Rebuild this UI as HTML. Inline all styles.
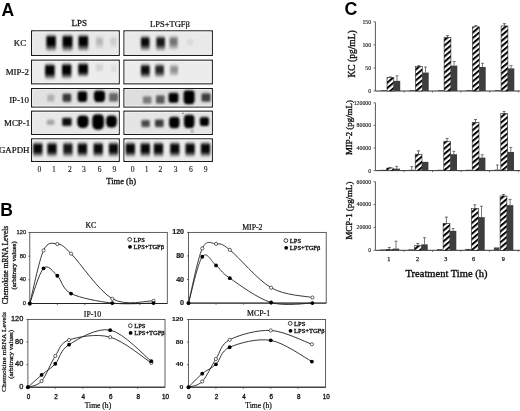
<!DOCTYPE html>
<html><head><meta charset="utf-8"><style>
html,body{margin:0;padding:0;background:#fff;}
body{width:520px;height:411px;overflow:hidden;}
svg{display:block;filter:blur(0.4px);}
</style></head><body>
<svg width="520" height="411" viewBox="0 0 520 411">
<rect width="520" height="411" fill="#fff"/>
<text x="1.60" y="15.60" font-family='"Liberation Sans", sans-serif' font-size="17.5" text-anchor="start" font-weight="bold" fill="#000"  >A</text>
<text x="79.20" y="26.40" font-family='"Liberation Serif", serif' font-size="9.0" text-anchor="middle" font-weight="normal" fill="#111" stroke="#111" stroke-width="0.3" >LPS</text>
<text x="170.00" y="26.60" font-family='"Liberation Serif", serif' font-size="8.5" text-anchor="middle" font-weight="normal" fill="#111" stroke="#111" stroke-width="0.22" >LPS+TGF&#946;</text>
<text x="26.20" y="46.30" font-family='"Liberation Serif", serif' font-size="8.9" text-anchor="end" font-weight="normal" fill="#111" stroke="#111" stroke-width="0.22" >KC</text>
<text x="28.90" y="75.20" font-family='"Liberation Serif", serif' font-size="8.9" text-anchor="end" font-weight="normal" fill="#111" stroke="#111" stroke-width="0.22" >MIP-2</text>
<text x="28.90" y="102.60" font-family='"Liberation Serif", serif' font-size="8.9" text-anchor="end" font-weight="normal" fill="#111" stroke="#111" stroke-width="0.22" >IP-10</text>
<text x="30.20" y="125.50" font-family='"Liberation Serif", serif' font-size="8.9" text-anchor="end" font-weight="normal" fill="#111" stroke="#111" stroke-width="0.22" >MCP-1</text>
<text x="29.50" y="153.30" font-family='"Liberation Serif", serif' font-size="8.9" text-anchor="end" font-weight="normal" fill="#111" stroke="#111" stroke-width="0.22" >GAPDH</text>
<defs>
<filter id="bl" x="-50%" y="-50%" width="200%" height="200%"><feGaussianBlur stdDeviation="1.1"/></filter>
<filter id="bl2" x="-50%" y="-50%" width="200%" height="200%"><feGaussianBlur stdDeviation="1.6"/></filter>
<linearGradient id="tailg" x1="0" y1="0" x2="0" y2="1"><stop offset="0" stop-color="#000" stop-opacity="0.75"/><stop offset="1" stop-color="#000" stop-opacity="0"/></linearGradient>
<pattern id="hatch" patternUnits="userSpaceOnUse" width="4.15" height="4.15" patternTransform="rotate(-40)"><rect width="4.15" height="4.15" fill="#fff"/><rect width="4.15" height="2.0" fill="#000"/></pattern>
</defs>
<rect x="31.60" y="30.90" width="87.60" height="24.50" fill="#e8e8e8" stroke="#1a1a1a" stroke-width="1.2"/>
<rect x="32.60" y="31.90" width="85.60" height="22.50" fill="none" stroke="#f7f7f7" stroke-width="0.8"/>
<linearGradient id="g16" x1="0" y1="0" x2="0" y2="1"><stop offset="0" stop-opacity="0.1"/><stop offset="0.107" stop-opacity="0.45"/><stop offset="0.194" stop-opacity="1"/><stop offset="0.583" stop-opacity="1"/><stop offset="0.729" stop-opacity="0.68"/><stop offset="0.875" stop-opacity="0.32"/><stop offset="1" stop-opacity="0"/></linearGradient>
<rect x="46.35" y="34.00" width="9.50" height="18.00" rx="2.50" fill="url(#g16)" opacity="1.00" filter="url(#bl)"/>
<linearGradient id="g18" x1="0" y1="0" x2="0" y2="1"><stop offset="0" stop-opacity="0.1"/><stop offset="0.105" stop-opacity="0.45"/><stop offset="0.191" stop-opacity="1"/><stop offset="0.590" stop-opacity="1"/><stop offset="0.734" stop-opacity="0.68"/><stop offset="0.877" stop-opacity="0.32"/><stop offset="1" stop-opacity="0"/></linearGradient>
<rect x="62.50" y="34.00" width="10.00" height="18.30" rx="2.50" fill="url(#g18)" opacity="1.00" filter="url(#bl)"/>
<linearGradient id="g20" x1="0" y1="0" x2="0" y2="1"><stop offset="0" stop-opacity="0.1"/><stop offset="0.108" stop-opacity="0.45"/><stop offset="0.197" stop-opacity="1"/><stop offset="0.579" stop-opacity="1"/><stop offset="0.726" stop-opacity="0.68"/><stop offset="0.874" stop-opacity="0.32"/><stop offset="1" stop-opacity="0"/></linearGradient>
<rect x="78.45" y="34.00" width="9.70" height="17.80" rx="2.50" fill="url(#g20)" opacity="1.00" filter="url(#bl)"/>
<linearGradient id="g22" x1="0" y1="0" x2="0" y2="1"><stop offset="0" stop-opacity="0.1"/><stop offset="0.138" stop-opacity="0.45"/><stop offset="0.250" stop-opacity="1"/><stop offset="0.536" stop-opacity="1"/><stop offset="0.698" stop-opacity="0.68"/><stop offset="0.861" stop-opacity="0.32"/><stop offset="1" stop-opacity="0"/></linearGradient>
<rect x="96.00" y="35.50" width="7.00" height="14.00" rx="2.00" fill="url(#g22)" opacity="0.20" filter="url(#bl)"/>
<linearGradient id="g24" x1="0" y1="0" x2="0" y2="1"><stop offset="0" stop-opacity="0.1"/><stop offset="0.148" stop-opacity="0.45"/><stop offset="0.269" stop-opacity="1"/><stop offset="0.577" stop-opacity="1"/><stop offset="0.725" stop-opacity="0.68"/><stop offset="0.873" stop-opacity="0.32"/><stop offset="1" stop-opacity="0"/></linearGradient>
<rect x="110.50" y="35.50" width="6.00" height="13.00" rx="2.00" fill="url(#g24)" opacity="0.12" filter="url(#bl)"/>
<rect x="124.00" y="30.90" width="88.30" height="24.50" fill="#e9e9e9" stroke="#1a1a1a" stroke-width="1.2"/>
<rect x="125.00" y="31.90" width="86.30" height="22.50" fill="none" stroke="#f7f7f7" stroke-width="0.8"/>
<linearGradient id="g28" x1="0" y1="0" x2="0" y2="1"><stop offset="0" stop-opacity="0.1"/><stop offset="0.119" stop-opacity="0.45"/><stop offset="0.216" stop-opacity="1"/><stop offset="0.568" stop-opacity="1"/><stop offset="0.719" stop-opacity="0.68"/><stop offset="0.870" stop-opacity="0.32"/><stop offset="1" stop-opacity="0"/></linearGradient>
<rect x="140.90" y="35.30" width="8.60" height="16.20" rx="2.20" fill="url(#g28)" opacity="0.97" filter="url(#bl)"/>
<linearGradient id="g30" x1="0" y1="0" x2="0" y2="1"><stop offset="0" stop-opacity="0.1"/><stop offset="0.119" stop-opacity="0.45"/><stop offset="0.216" stop-opacity="1"/><stop offset="0.568" stop-opacity="1"/><stop offset="0.719" stop-opacity="0.68"/><stop offset="0.870" stop-opacity="0.32"/><stop offset="1" stop-opacity="0"/></linearGradient>
<rect x="156.30" y="35.30" width="8.60" height="16.20" rx="2.20" fill="url(#g30)" opacity="0.90" filter="url(#bl)"/>
<linearGradient id="g32" x1="0" y1="0" x2="0" y2="1"><stop offset="0" stop-opacity="0.1"/><stop offset="0.128" stop-opacity="0.45"/><stop offset="0.233" stop-opacity="1"/><stop offset="0.567" stop-opacity="1"/><stop offset="0.718" stop-opacity="0.68"/><stop offset="0.870" stop-opacity="0.32"/><stop offset="1" stop-opacity="0"/></linearGradient>
<rect x="169.60" y="35.30" width="8.00" height="15.00" rx="2.00" fill="url(#g32)" opacity="0.50" filter="url(#bl)"/>
<linearGradient id="g34" x1="0" y1="0" x2="0" y2="1"><stop offset="0" stop-opacity="0.1"/><stop offset="0.138" stop-opacity="0.45"/><stop offset="0.250" stop-opacity="1"/><stop offset="0.750" stop-opacity="1"/><stop offset="0.838" stop-opacity="0.68"/><stop offset="0.925" stop-opacity="0.32"/><stop offset="1" stop-opacity="0"/></linearGradient>
<rect x="187.00" y="38.00" width="6.00" height="8.00" rx="2.00" fill="url(#g34)" opacity="0.06" filter="url(#bl)"/>
<rect x="31.60" y="60.20" width="87.60" height="23.60" fill="#ececec" stroke="#1a1a1a" stroke-width="1.2"/>
<rect x="32.60" y="61.20" width="85.60" height="21.60" fill="none" stroke="#f7f7f7" stroke-width="0.8"/>
<linearGradient id="g38" x1="0" y1="0" x2="0" y2="1"><stop offset="0" stop-opacity="0.1"/><stop offset="0.113" stop-opacity="0.45"/><stop offset="0.206" stop-opacity="1"/><stop offset="0.618" stop-opacity="1"/><stop offset="0.751" stop-opacity="0.68"/><stop offset="0.885" stop-opacity="0.32"/><stop offset="1" stop-opacity="0"/></linearGradient>
<rect x="45.10" y="63.00" width="9.60" height="17.00" rx="2.50" fill="url(#g38)" opacity="1.00" filter="url(#bl)"/>
<linearGradient id="g40" x1="0" y1="0" x2="0" y2="1"><stop offset="0" stop-opacity="0.1"/><stop offset="0.113" stop-opacity="0.45"/><stop offset="0.206" stop-opacity="1"/><stop offset="0.618" stop-opacity="1"/><stop offset="0.751" stop-opacity="0.68"/><stop offset="0.885" stop-opacity="0.32"/><stop offset="1" stop-opacity="0"/></linearGradient>
<rect x="62.00" y="62.50" width="9.40" height="17.00" rx="2.50" fill="url(#g40)" opacity="1.00" filter="url(#bl)"/>
<linearGradient id="g42" x1="0" y1="0" x2="0" y2="1"><stop offset="0" stop-opacity="0.1"/><stop offset="0.124" stop-opacity="0.45"/><stop offset="0.226" stop-opacity="1"/><stop offset="0.645" stop-opacity="1"/><stop offset="0.769" stop-opacity="0.68"/><stop offset="0.894" stop-opacity="0.32"/><stop offset="1" stop-opacity="0"/></linearGradient>
<rect x="78.25" y="62.00" width="9.70" height="15.50" rx="2.50" fill="url(#g42)" opacity="1.00" filter="url(#bl)"/>
<linearGradient id="g44" x1="0" y1="0" x2="0" y2="1"><stop offset="0" stop-opacity="0.1"/><stop offset="0.122" stop-opacity="0.45"/><stop offset="0.222" stop-opacity="1"/><stop offset="0.778" stop-opacity="1"/><stop offset="0.856" stop-opacity="0.68"/><stop offset="0.933" stop-opacity="0.32"/><stop offset="1" stop-opacity="0"/></linearGradient>
<rect x="95.90" y="63.00" width="7.00" height="9.00" rx="2.00" fill="url(#g44)" opacity="0.10" filter="url(#bl)"/>
<linearGradient id="g46" x1="0" y1="0" x2="0" y2="1"><stop offset="0" stop-opacity="0.1"/><stop offset="0.122" stop-opacity="0.45"/><stop offset="0.222" stop-opacity="1"/><stop offset="0.778" stop-opacity="1"/><stop offset="0.856" stop-opacity="0.68"/><stop offset="0.933" stop-opacity="0.32"/><stop offset="1" stop-opacity="0"/></linearGradient>
<rect x="110.90" y="64.00" width="6.00" height="9.00" rx="2.00" fill="url(#g46)" opacity="0.06" filter="url(#bl)"/>
<rect x="124.00" y="60.20" width="88.30" height="23.60" fill="#ececec" stroke="#1a1a1a" stroke-width="1.2"/>
<rect x="125.00" y="61.20" width="86.30" height="21.60" fill="none" stroke="#f7f7f7" stroke-width="0.8"/>
<linearGradient id="g50" x1="0" y1="0" x2="0" y2="1"><stop offset="0" stop-opacity="0.1"/><stop offset="0.127" stop-opacity="0.45"/><stop offset="0.230" stop-opacity="1"/><stop offset="0.605" stop-opacity="1"/><stop offset="0.743" stop-opacity="0.68"/><stop offset="0.882" stop-opacity="0.32"/><stop offset="1" stop-opacity="0"/></linearGradient>
<rect x="140.90" y="63.30" width="8.80" height="15.20" rx="2.20" fill="url(#g50)" opacity="0.95" filter="url(#bl)"/>
<linearGradient id="g52" x1="0" y1="0" x2="0" y2="1"><stop offset="0" stop-opacity="0.1"/><stop offset="0.131" stop-opacity="0.45"/><stop offset="0.238" stop-opacity="1"/><stop offset="0.592" stop-opacity="1"/><stop offset="0.735" stop-opacity="0.68"/><stop offset="0.878" stop-opacity="0.32"/><stop offset="1" stop-opacity="0"/></linearGradient>
<rect x="155.30" y="63.30" width="8.60" height="14.70" rx="2.20" fill="url(#g52)" opacity="0.85" filter="url(#bl)"/>
<linearGradient id="g54" x1="0" y1="0" x2="0" y2="1"><stop offset="0" stop-opacity="0.1"/><stop offset="0.148" stop-opacity="0.45"/><stop offset="0.269" stop-opacity="1"/><stop offset="0.577" stop-opacity="1"/><stop offset="0.725" stop-opacity="0.68"/><stop offset="0.873" stop-opacity="0.32"/><stop offset="1" stop-opacity="0"/></linearGradient>
<rect x="170.20" y="63.80" width="7.80" height="13.00" rx="2.00" fill="url(#g54)" opacity="0.38" filter="url(#bl)"/>
<rect x="31.60" y="88.60" width="87.60" height="18.40" fill="#e1e1e1" stroke="#1a1a1a" stroke-width="1.2"/>
<rect x="32.60" y="89.60" width="85.60" height="16.40" fill="none" stroke="#f7f7f7" stroke-width="0.8"/>
<linearGradient id="g58" x1="0" y1="0" x2="0" y2="1"><stop offset="0" stop-opacity="0.1"/><stop offset="0.122" stop-opacity="0.45"/><stop offset="0.222" stop-opacity="1"/><stop offset="0.778" stop-opacity="1"/><stop offset="0.856" stop-opacity="0.68"/><stop offset="0.933" stop-opacity="0.32"/><stop offset="1" stop-opacity="0"/></linearGradient>
<rect x="47.30" y="93.50" width="7.00" height="9.00" rx="2.00" fill="url(#g58)" opacity="0.22" filter="url(#bl)"/>
<linearGradient id="g60" x1="0" y1="0" x2="0" y2="1"><stop offset="0" stop-opacity="0.1"/><stop offset="0.105" stop-opacity="0.45"/><stop offset="0.190" stop-opacity="1"/><stop offset="0.762" stop-opacity="1"/><stop offset="0.845" stop-opacity="0.68"/><stop offset="0.929" stop-opacity="0.32"/><stop offset="1" stop-opacity="0"/></linearGradient>
<rect x="62.60" y="92.60" width="8.60" height="10.50" rx="2.50" fill="url(#g60)" opacity="0.75" filter="url(#bl)"/>
<linearGradient id="g62" x1="0" y1="0" x2="0" y2="1"><stop offset="0" stop-opacity="0.1"/><stop offset="0.090" stop-opacity="0.45"/><stop offset="0.164" stop-opacity="1"/><stop offset="0.918" stop-opacity="1"/><stop offset="0.947" stop-opacity="0.68"/><stop offset="0.975" stop-opacity="0.32"/><stop offset="1" stop-opacity="0"/></linearGradient>
<rect x="77.65" y="90.20" width="9.50" height="12.20" rx="4.00" fill="url(#g62)" opacity="1.00" filter="url(#bl)"/>
<linearGradient id="g64" x1="0" y1="0" x2="0" y2="1"><stop offset="0" stop-opacity="0.1"/><stop offset="0.085" stop-opacity="0.45"/><stop offset="0.154" stop-opacity="1"/><stop offset="0.923" stop-opacity="1"/><stop offset="0.950" stop-opacity="0.68"/><stop offset="0.977" stop-opacity="0.32"/><stop offset="1" stop-opacity="0"/></linearGradient>
<rect x="93.90" y="89.60" width="11.20" height="13.00" rx="4.50" fill="url(#g64)" opacity="1.00" filter="url(#bl)"/>
<linearGradient id="g66" x1="0" y1="0" x2="0" y2="1"><stop offset="0" stop-opacity="0.1"/><stop offset="0.105" stop-opacity="0.45"/><stop offset="0.190" stop-opacity="1"/><stop offset="0.810" stop-opacity="1"/><stop offset="0.876" stop-opacity="0.68"/><stop offset="0.943" stop-opacity="0.32"/><stop offset="1" stop-opacity="0"/></linearGradient>
<rect x="109.10" y="92.00" width="9.00" height="10.50" rx="2.50" fill="url(#g66)" opacity="0.55" filter="url(#bl)"/>
<rect x="124.00" y="88.60" width="88.30" height="18.40" fill="#dedede" stroke="#1a1a1a" stroke-width="1.2"/>
<rect x="125.00" y="89.60" width="86.30" height="16.40" fill="none" stroke="#f7f7f7" stroke-width="0.8"/>
<linearGradient id="g70" x1="0" y1="0" x2="0" y2="1"><stop offset="0" stop-opacity="0.1"/><stop offset="0.120" stop-opacity="0.45"/><stop offset="0.217" stop-opacity="1"/><stop offset="0.783" stop-opacity="1"/><stop offset="0.859" stop-opacity="0.68"/><stop offset="0.935" stop-opacity="0.32"/><stop offset="1" stop-opacity="0"/></linearGradient>
<rect x="142.95" y="95.30" width="8.50" height="9.20" rx="2.00" fill="url(#g70)" opacity="0.45" filter="url(#bl)"/>
<linearGradient id="g72" x1="0" y1="0" x2="0" y2="1"><stop offset="0" stop-opacity="0.1"/><stop offset="0.108" stop-opacity="0.45"/><stop offset="0.196" stop-opacity="1"/><stop offset="0.804" stop-opacity="1"/><stop offset="0.873" stop-opacity="0.68"/><stop offset="0.941" stop-opacity="0.32"/><stop offset="1" stop-opacity="0"/></linearGradient>
<rect x="156.05" y="94.30" width="8.50" height="10.20" rx="2.00" fill="url(#g72)" opacity="0.60" filter="url(#bl)"/>
<linearGradient id="g74" x1="0" y1="0" x2="0" y2="1"><stop offset="0" stop-opacity="0.1"/><stop offset="0.096" stop-opacity="0.45"/><stop offset="0.175" stop-opacity="1"/><stop offset="0.912" stop-opacity="1"/><stop offset="0.943" stop-opacity="0.68"/><stop offset="0.974" stop-opacity="0.32"/><stop offset="1" stop-opacity="0"/></linearGradient>
<rect x="168.60" y="91.80" width="9.80" height="11.40" rx="3.50" fill="url(#g74)" opacity="1.00" filter="url(#bl)"/>
<linearGradient id="g76" x1="0" y1="0" x2="0" y2="1"><stop offset="0" stop-opacity="0.1"/><stop offset="0.071" stop-opacity="0.45"/><stop offset="0.129" stop-opacity="1"/><stop offset="0.935" stop-opacity="1"/><stop offset="0.958" stop-opacity="0.68"/><stop offset="0.981" stop-opacity="0.32"/><stop offset="1" stop-opacity="0"/></linearGradient>
<rect x="183.60" y="89.30" width="11.00" height="15.50" rx="4.50" fill="url(#g76)" opacity="1.00" filter="url(#bl)"/>
<linearGradient id="g78" x1="0" y1="0" x2="0" y2="1"><stop offset="0" stop-opacity="0.1"/><stop offset="0.105" stop-opacity="0.45"/><stop offset="0.190" stop-opacity="1"/><stop offset="0.810" stop-opacity="1"/><stop offset="0.876" stop-opacity="0.68"/><stop offset="0.943" stop-opacity="0.32"/><stop offset="1" stop-opacity="0"/></linearGradient>
<rect x="201.50" y="92.20" width="9.00" height="10.50" rx="2.50" fill="url(#g78)" opacity="0.72" filter="url(#bl)"/>
<rect x="31.60" y="111.20" width="87.60" height="23.20" fill="#e8e8e8" stroke="#1a1a1a" stroke-width="1.2"/>
<rect x="32.60" y="112.20" width="85.60" height="21.20" fill="none" stroke="#f7f7f7" stroke-width="0.8"/>
<linearGradient id="g82" x1="0" y1="0" x2="0" y2="1"><stop offset="0" stop-opacity="0.1"/><stop offset="0.157" stop-opacity="0.45"/><stop offset="0.286" stop-opacity="1"/><stop offset="0.714" stop-opacity="1"/><stop offset="0.814" stop-opacity="0.68"/><stop offset="0.914" stop-opacity="0.32"/><stop offset="1" stop-opacity="0"/></linearGradient>
<rect x="46.85" y="118.80" width="7.50" height="7.00" rx="1.50" fill="url(#g82)" opacity="0.30" filter="url(#bl)"/>
<linearGradient id="g84" x1="0" y1="0" x2="0" y2="1"><stop offset="0" stop-opacity="0.1"/><stop offset="0.107" stop-opacity="0.45"/><stop offset="0.194" stop-opacity="1"/><stop offset="0.757" stop-opacity="1"/><stop offset="0.842" stop-opacity="0.68"/><stop offset="0.927" stop-opacity="0.32"/><stop offset="1" stop-opacity="0"/></linearGradient>
<rect x="62.20" y="116.80" width="9.40" height="10.30" rx="2.50" fill="url(#g84)" opacity="0.95" filter="url(#bl)"/>
<linearGradient id="g86" x1="0" y1="0" x2="0" y2="1"><stop offset="0" stop-opacity="0.1"/><stop offset="0.079" stop-opacity="0.45"/><stop offset="0.143" stop-opacity="1"/><stop offset="0.929" stop-opacity="1"/><stop offset="0.954" stop-opacity="0.68"/><stop offset="0.979" stop-opacity="0.32"/><stop offset="1" stop-opacity="0"/></linearGradient>
<rect x="77.20" y="114.40" width="11.40" height="14.00" rx="5.50" fill="url(#g86)" opacity="1.00" filter="url(#bl)"/>
<linearGradient id="g88" x1="0" y1="0" x2="0" y2="1"><stop offset="0" stop-opacity="0.1"/><stop offset="0.065" stop-opacity="0.45"/><stop offset="0.118" stop-opacity="1"/><stop offset="0.941" stop-opacity="1"/><stop offset="0.962" stop-opacity="0.68"/><stop offset="0.982" stop-opacity="0.32"/><stop offset="1" stop-opacity="0"/></linearGradient>
<rect x="92.25" y="113.20" width="11.70" height="17.00" rx="5.80" fill="url(#g88)" opacity="1.00" filter="url(#bl)"/>
<linearGradient id="g90" x1="0" y1="0" x2="0" y2="1"><stop offset="0" stop-opacity="0.1"/><stop offset="0.081" stop-opacity="0.45"/><stop offset="0.147" stop-opacity="1"/><stop offset="0.926" stop-opacity="1"/><stop offset="0.952" stop-opacity="0.68"/><stop offset="0.978" stop-opacity="0.32"/><stop offset="1" stop-opacity="0"/></linearGradient>
<rect x="106.10" y="114.40" width="10.80" height="13.60" rx="5.30" fill="url(#g90)" opacity="1.00" filter="url(#bl)"/>
<rect x="124.00" y="111.20" width="88.30" height="23.20" fill="#e5e5e5" stroke="#1a1a1a" stroke-width="1.2"/>
<rect x="125.00" y="112.20" width="86.30" height="21.20" fill="none" stroke="#f7f7f7" stroke-width="0.8"/>
<linearGradient id="g94" x1="0" y1="0" x2="0" y2="1"><stop offset="0" stop-opacity="0.1"/><stop offset="0.122" stop-opacity="0.45"/><stop offset="0.222" stop-opacity="1"/><stop offset="0.778" stop-opacity="1"/><stop offset="0.856" stop-opacity="0.68"/><stop offset="0.933" stop-opacity="0.32"/><stop offset="1" stop-opacity="0"/></linearGradient>
<rect x="141.40" y="119.00" width="8.40" height="9.00" rx="2.00" fill="url(#g94)" opacity="0.68" filter="url(#bl)"/>
<linearGradient id="g96" x1="0" y1="0" x2="0" y2="1"><stop offset="0" stop-opacity="0.1"/><stop offset="0.116" stop-opacity="0.45"/><stop offset="0.211" stop-opacity="1"/><stop offset="0.789" stop-opacity="1"/><stop offset="0.863" stop-opacity="0.68"/><stop offset="0.937" stop-opacity="0.32"/><stop offset="1" stop-opacity="0"/></linearGradient>
<rect x="155.00" y="118.50" width="8.60" height="9.50" rx="2.00" fill="url(#g96)" opacity="0.75" filter="url(#bl)"/>
<linearGradient id="g98" x1="0" y1="0" x2="0" y2="1"><stop offset="0" stop-opacity="0.1"/><stop offset="0.085" stop-opacity="0.45"/><stop offset="0.154" stop-opacity="1"/><stop offset="0.923" stop-opacity="1"/><stop offset="0.950" stop-opacity="0.68"/><stop offset="0.977" stop-opacity="0.32"/><stop offset="1" stop-opacity="0"/></linearGradient>
<rect x="169.10" y="115.80" width="10.40" height="13.00" rx="4.50" fill="url(#g98)" opacity="1.00" filter="url(#bl)"/>
<linearGradient id="g100" x1="0" y1="0" x2="0" y2="1"><stop offset="0" stop-opacity="0.1"/><stop offset="0.074" stop-opacity="0.45"/><stop offset="0.135" stop-opacity="1"/><stop offset="0.932" stop-opacity="1"/><stop offset="0.956" stop-opacity="0.68"/><stop offset="0.980" stop-opacity="0.32"/><stop offset="1" stop-opacity="0"/></linearGradient>
<rect x="184.00" y="113.80" width="10.40" height="14.80" rx="4.50" fill="url(#g100)" opacity="1.00" filter="url(#bl)"/>
<linearGradient id="g102" x1="0" y1="0" x2="0" y2="1"><stop offset="0" stop-opacity="0.1"/><stop offset="0.105" stop-opacity="0.45"/><stop offset="0.190" stop-opacity="1"/><stop offset="0.905" stop-opacity="1"/><stop offset="0.938" stop-opacity="0.68"/><stop offset="0.971" stop-opacity="0.32"/><stop offset="1" stop-opacity="0"/></linearGradient>
<rect x="199.85" y="116.00" width="9.10" height="10.50" rx="3.50" fill="url(#g102)" opacity="1.00" filter="url(#bl)"/>
<circle cx="192.2" cy="131.3" r="1.1" fill="#222" filter="url(#bl)" opacity="0.8"/>
<circle cx="183" cy="113.2" r="0.7" fill="#222" opacity="0.7"/>
<rect x="31.60" y="138.90" width="87.60" height="22.50" fill="#ebebeb" stroke="#1a1a1a" stroke-width="1.2"/>
<rect x="32.60" y="139.90" width="85.60" height="20.50" fill="none" stroke="#f7f7f7" stroke-width="0.8"/>
<linearGradient id="g108" x1="0" y1="0" x2="0" y2="1"><stop offset="0" stop-opacity="0.1"/><stop offset="0.120" stop-opacity="0.45"/><stop offset="0.219" stop-opacity="1"/><stop offset="0.631" stop-opacity="1"/><stop offset="0.760" stop-opacity="0.68"/><stop offset="0.889" stop-opacity="0.32"/><stop offset="1" stop-opacity="0"/></linearGradient>
<rect x="33.15" y="141.50" width="9.30" height="16.00" rx="2.60" fill="url(#g108)" opacity="0.97" filter="url(#bl)"/>
<linearGradient id="g110" x1="0" y1="0" x2="0" y2="1"><stop offset="0" stop-opacity="0.1"/><stop offset="0.120" stop-opacity="0.45"/><stop offset="0.219" stop-opacity="1"/><stop offset="0.631" stop-opacity="1"/><stop offset="0.760" stop-opacity="0.68"/><stop offset="0.889" stop-opacity="0.32"/><stop offset="1" stop-opacity="0"/></linearGradient>
<rect x="47.35" y="141.50" width="9.30" height="16.00" rx="2.60" fill="url(#g110)" opacity="0.97" filter="url(#bl)"/>
<linearGradient id="g112" x1="0" y1="0" x2="0" y2="1"><stop offset="0" stop-opacity="0.1"/><stop offset="0.120" stop-opacity="0.45"/><stop offset="0.219" stop-opacity="1"/><stop offset="0.631" stop-opacity="1"/><stop offset="0.760" stop-opacity="0.68"/><stop offset="0.889" stop-opacity="0.32"/><stop offset="1" stop-opacity="0"/></linearGradient>
<rect x="63.25" y="141.50" width="9.30" height="16.00" rx="2.60" fill="url(#g112)" opacity="0.90" filter="url(#bl)"/>
<linearGradient id="g114" x1="0" y1="0" x2="0" y2="1"><stop offset="0" stop-opacity="0.1"/><stop offset="0.120" stop-opacity="0.45"/><stop offset="0.219" stop-opacity="1"/><stop offset="0.631" stop-opacity="1"/><stop offset="0.760" stop-opacity="0.68"/><stop offset="0.889" stop-opacity="0.32"/><stop offset="1" stop-opacity="0"/></linearGradient>
<rect x="77.75" y="141.50" width="9.30" height="16.00" rx="2.60" fill="url(#g114)" opacity="0.97" filter="url(#bl)"/>
<linearGradient id="g116" x1="0" y1="0" x2="0" y2="1"><stop offset="0" stop-opacity="0.1"/><stop offset="0.120" stop-opacity="0.45"/><stop offset="0.219" stop-opacity="1"/><stop offset="0.631" stop-opacity="1"/><stop offset="0.760" stop-opacity="0.68"/><stop offset="0.889" stop-opacity="0.32"/><stop offset="1" stop-opacity="0"/></linearGradient>
<rect x="93.55" y="141.50" width="9.30" height="16.00" rx="2.60" fill="url(#g116)" opacity="0.97" filter="url(#bl)"/>
<linearGradient id="g118" x1="0" y1="0" x2="0" y2="1"><stop offset="0" stop-opacity="0.1"/><stop offset="0.120" stop-opacity="0.45"/><stop offset="0.219" stop-opacity="1"/><stop offset="0.631" stop-opacity="1"/><stop offset="0.760" stop-opacity="0.68"/><stop offset="0.889" stop-opacity="0.32"/><stop offset="1" stop-opacity="0"/></linearGradient>
<rect x="108.85" y="141.50" width="9.30" height="16.00" rx="2.60" fill="url(#g118)" opacity="0.97" filter="url(#bl)"/>
<rect x="124.00" y="138.90" width="88.30" height="22.50" fill="#eaeaea" stroke="#1a1a1a" stroke-width="1.2"/>
<rect x="125.00" y="139.90" width="86.30" height="20.50" fill="none" stroke="#f7f7f7" stroke-width="0.8"/>
<linearGradient id="g122" x1="0" y1="0" x2="0" y2="1"><stop offset="0" stop-opacity="0.1"/><stop offset="0.120" stop-opacity="0.45"/><stop offset="0.219" stop-opacity="1"/><stop offset="0.631" stop-opacity="1"/><stop offset="0.760" stop-opacity="0.68"/><stop offset="0.889" stop-opacity="0.32"/><stop offset="1" stop-opacity="0"/></linearGradient>
<rect x="125.65" y="141.50" width="9.30" height="16.00" rx="2.60" fill="url(#g122)" opacity="0.97" filter="url(#bl)"/>
<linearGradient id="g124" x1="0" y1="0" x2="0" y2="1"><stop offset="0" stop-opacity="0.1"/><stop offset="0.120" stop-opacity="0.45"/><stop offset="0.219" stop-opacity="1"/><stop offset="0.631" stop-opacity="1"/><stop offset="0.760" stop-opacity="0.68"/><stop offset="0.889" stop-opacity="0.32"/><stop offset="1" stop-opacity="0"/></linearGradient>
<rect x="140.65" y="141.50" width="9.30" height="16.00" rx="2.60" fill="url(#g124)" opacity="0.97" filter="url(#bl)"/>
<linearGradient id="g126" x1="0" y1="0" x2="0" y2="1"><stop offset="0" stop-opacity="0.1"/><stop offset="0.120" stop-opacity="0.45"/><stop offset="0.219" stop-opacity="1"/><stop offset="0.631" stop-opacity="1"/><stop offset="0.760" stop-opacity="0.68"/><stop offset="0.889" stop-opacity="0.32"/><stop offset="1" stop-opacity="0"/></linearGradient>
<rect x="153.85" y="141.50" width="9.30" height="16.00" rx="2.60" fill="url(#g126)" opacity="0.97" filter="url(#bl)"/>
<linearGradient id="g128" x1="0" y1="0" x2="0" y2="1"><stop offset="0" stop-opacity="0.1"/><stop offset="0.120" stop-opacity="0.45"/><stop offset="0.219" stop-opacity="1"/><stop offset="0.631" stop-opacity="1"/><stop offset="0.760" stop-opacity="0.68"/><stop offset="0.889" stop-opacity="0.32"/><stop offset="1" stop-opacity="0"/></linearGradient>
<rect x="170.15" y="141.50" width="9.30" height="16.00" rx="2.60" fill="url(#g128)" opacity="0.97" filter="url(#bl)"/>
<linearGradient id="g130" x1="0" y1="0" x2="0" y2="1"><stop offset="0" stop-opacity="0.1"/><stop offset="0.120" stop-opacity="0.45"/><stop offset="0.219" stop-opacity="1"/><stop offset="0.631" stop-opacity="1"/><stop offset="0.760" stop-opacity="0.68"/><stop offset="0.889" stop-opacity="0.32"/><stop offset="1" stop-opacity="0"/></linearGradient>
<rect x="185.45" y="141.50" width="9.30" height="16.00" rx="2.60" fill="url(#g130)" opacity="0.97" filter="url(#bl)"/>
<linearGradient id="g132" x1="0" y1="0" x2="0" y2="1"><stop offset="0" stop-opacity="0.1"/><stop offset="0.120" stop-opacity="0.45"/><stop offset="0.219" stop-opacity="1"/><stop offset="0.631" stop-opacity="1"/><stop offset="0.760" stop-opacity="0.68"/><stop offset="0.889" stop-opacity="0.32"/><stop offset="1" stop-opacity="0"/></linearGradient>
<rect x="200.85" y="141.50" width="9.30" height="16.00" rx="2.60" fill="url(#g132)" opacity="0.97" filter="url(#bl)"/>
<text x="39.30" y="171.70" font-family='"Liberation Serif", serif' font-size="7.6" text-anchor="middle" font-weight="normal" fill="#111" stroke="#111" stroke-width="0.1" >0</text>
<text x="53.90" y="171.70" font-family='"Liberation Serif", serif' font-size="7.6" text-anchor="middle" font-weight="normal" fill="#111" stroke="#111" stroke-width="0.1" >1</text>
<text x="70.00" y="171.70" font-family='"Liberation Serif", serif' font-size="7.6" text-anchor="middle" font-weight="normal" fill="#111" stroke="#111" stroke-width="0.1" >2</text>
<text x="84.00" y="171.70" font-family='"Liberation Serif", serif' font-size="7.6" text-anchor="middle" font-weight="normal" fill="#111" stroke="#111" stroke-width="0.1" >3</text>
<text x="99.70" y="171.70" font-family='"Liberation Serif", serif' font-size="7.6" text-anchor="middle" font-weight="normal" fill="#111" stroke="#111" stroke-width="0.1" >6</text>
<text x="114.30" y="171.70" font-family='"Liberation Serif", serif' font-size="7.6" text-anchor="middle" font-weight="normal" fill="#111" stroke="#111" stroke-width="0.1" >9</text>
<text x="132.60" y="171.70" font-family='"Liberation Serif", serif' font-size="7.6" text-anchor="middle" font-weight="normal" fill="#111" stroke="#111" stroke-width="0.1" >0</text>
<text x="146.60" y="171.70" font-family='"Liberation Serif", serif' font-size="7.6" text-anchor="middle" font-weight="normal" fill="#111" stroke="#111" stroke-width="0.1" >1</text>
<text x="160.50" y="171.70" font-family='"Liberation Serif", serif' font-size="7.6" text-anchor="middle" font-weight="normal" fill="#111" stroke="#111" stroke-width="0.1" >2</text>
<text x="175.60" y="171.70" font-family='"Liberation Serif", serif' font-size="7.6" text-anchor="middle" font-weight="normal" fill="#111" stroke="#111" stroke-width="0.1" >3</text>
<text x="190.90" y="171.70" font-family='"Liberation Serif", serif' font-size="7.6" text-anchor="middle" font-weight="normal" fill="#111" stroke="#111" stroke-width="0.1" >6</text>
<text x="205.60" y="171.70" font-family='"Liberation Serif", serif' font-size="7.6" text-anchor="middle" font-weight="normal" fill="#111" stroke="#111" stroke-width="0.1" >9</text>
<text x="121.20" y="183.60" font-family='"Liberation Serif", serif' font-size="8.5" text-anchor="middle" font-weight="normal" fill="#111" stroke="#111" stroke-width="0.3" >Time (h)</text>
<text x="0.20" y="216.40" font-family='"Liberation Sans", sans-serif' font-size="17.5" text-anchor="start" font-weight="bold" fill="#000"  >B</text>
<rect x="29.80" y="232.40" width="137.50" height="71.10" fill="none" stroke="#444" stroke-width="0.85"/>
<line x1="29.80" y1="303.50" x2="167.30" y2="303.50" stroke="#222" stroke-width="0.95"/>
<line x1="28.30" y1="303.50" x2="29.80" y2="303.50" stroke="#444" stroke-width="0.8"/>
<g transform="translate(26.10,305.10) scale(1.0,1)">
<text x="0.00" y="0.00" font-family='"Liberation Sans", sans-serif' font-size="5.8" text-anchor="end" font-weight="normal" fill="#1a1a1a" stroke="#1a1a1a" stroke-width="0.25" >0</text>
</g>
<line x1="28.30" y1="279.80" x2="29.80" y2="279.80" stroke="#444" stroke-width="0.8"/>
<g transform="translate(26.10,281.40) scale(1.0,1)">
<text x="0.00" y="0.00" font-family='"Liberation Sans", sans-serif' font-size="5.8" text-anchor="end" font-weight="normal" fill="#1a1a1a" stroke="#1a1a1a" stroke-width="0.25" >40</text>
</g>
<line x1="28.30" y1="256.10" x2="29.80" y2="256.10" stroke="#444" stroke-width="0.8"/>
<g transform="translate(26.10,257.70) scale(1.0,1)">
<text x="0.00" y="0.00" font-family='"Liberation Sans", sans-serif' font-size="5.8" text-anchor="end" font-weight="normal" fill="#1a1a1a" stroke="#1a1a1a" stroke-width="0.25" >80</text>
</g>
<line x1="28.30" y1="232.40" x2="29.80" y2="232.40" stroke="#444" stroke-width="0.8"/>
<g transform="translate(26.10,234.00) scale(1.0,1)">
<text x="0.00" y="0.00" font-family='"Liberation Sans", sans-serif' font-size="5.8" text-anchor="end" font-weight="normal" fill="#1a1a1a" stroke="#1a1a1a" stroke-width="0.25" >120</text>
</g>
<line x1="57.30" y1="303.50" x2="57.30" y2="305.10" stroke="#444" stroke-width="0.8"/>
<line x1="84.80" y1="303.50" x2="84.80" y2="305.10" stroke="#444" stroke-width="0.8"/>
<line x1="112.30" y1="303.50" x2="112.30" y2="305.10" stroke="#444" stroke-width="0.8"/>
<line x1="139.80" y1="303.50" x2="139.80" y2="305.10" stroke="#444" stroke-width="0.8"/>
<text x="90.85" y="228.30" font-family='"Liberation Serif", serif' font-size="7.8" text-anchor="middle" font-weight="normal" fill="#111" stroke="#111" stroke-width="0.22" >KC</text>
<path d="M29.80,303.50 C32.09,294.65 38.97,260.32 43.55,250.41 C48.13,240.51 52.72,243.54 57.30,244.07 C61.88,244.61 61.88,244.50 71.05,253.61 C80.22,262.73 98.55,290.89 112.30,298.76 C126.05,306.63 146.68,300.49 153.55,300.83" fill="none" stroke="#222" stroke-width="0.9"/>
<path d="M29.80,303.50 C32.09,297.63 38.97,272.93 43.55,268.31 C48.13,263.68 52.72,271.56 57.30,275.77 C61.88,279.98 61.88,288.99 71.05,293.55 C80.22,298.10 98.55,301.50 112.30,303.09 C126.05,304.68 146.68,303.09 153.55,303.09" fill="none" stroke="#222" stroke-width="0.9"/>
<circle cx="29.80" cy="303.50" r="1.6" fill="#fff" stroke="#222" stroke-width="0.7"/>
<circle cx="43.55" cy="250.41" r="1.6" fill="#fff" stroke="#222" stroke-width="0.7"/>
<circle cx="57.30" cy="244.07" r="1.6" fill="#fff" stroke="#222" stroke-width="0.7"/>
<circle cx="71.05" cy="253.61" r="1.6" fill="#fff" stroke="#222" stroke-width="0.7"/>
<circle cx="112.30" cy="298.76" r="1.6" fill="#fff" stroke="#222" stroke-width="0.7"/>
<circle cx="153.55" cy="300.83" r="1.6" fill="#fff" stroke="#222" stroke-width="0.7"/>
<circle cx="29.80" cy="303.50" r="1.9" fill="#000"/>
<circle cx="43.55" cy="268.31" r="1.9" fill="#000"/>
<circle cx="57.30" cy="275.77" r="1.9" fill="#000"/>
<circle cx="71.05" cy="293.55" r="1.9" fill="#000"/>
<circle cx="112.30" cy="303.09" r="1.9" fill="#000"/>
<circle cx="153.55" cy="303.09" r="1.9" fill="#000"/>
<circle cx="129.70" cy="239.40" r="1.9" fill="#fff" stroke="#111" stroke-width="0.8"/>
<circle cx="130.00" cy="246.85" r="1.9" fill="#000"/>
<text x="133.60" y="241.50" font-family='"Liberation Serif", serif' font-size="6.5" text-anchor="start" font-weight="normal" fill="#111" stroke="#111" stroke-width="0.32" >LPS</text>
<text x="133.60" y="248.85" font-family='"Liberation Serif", serif' font-size="6.5" text-anchor="start" font-weight="normal" fill="#111" stroke="#111" stroke-width="0.32" >LPS+TGF&#946;</text>
<rect x="188.50" y="232.40" width="137.70" height="70.70" fill="none" stroke="#444" stroke-width="0.85"/>
<line x1="188.50" y1="303.10" x2="326.20" y2="303.10" stroke="#222" stroke-width="0.95"/>
<line x1="187.00" y1="303.10" x2="188.50" y2="303.10" stroke="#444" stroke-width="0.8"/>
<g transform="translate(184.10,305.10) scale(1.12,1)">
<text x="0.00" y="0.00" font-family='"Liberation Sans", sans-serif' font-size="6.4" text-anchor="end" font-weight="bold" fill="#1a1a1a" stroke="#1a1a1a" stroke-width="0.15" >0</text>
</g>
<line x1="187.00" y1="279.53" x2="188.50" y2="279.53" stroke="#444" stroke-width="0.8"/>
<g transform="translate(184.10,281.53) scale(1.12,1)">
<text x="0.00" y="0.00" font-family='"Liberation Sans", sans-serif' font-size="6.4" text-anchor="end" font-weight="bold" fill="#1a1a1a" stroke="#1a1a1a" stroke-width="0.15" >40</text>
</g>
<line x1="187.00" y1="255.97" x2="188.50" y2="255.97" stroke="#444" stroke-width="0.8"/>
<g transform="translate(184.10,257.97) scale(1.12,1)">
<text x="0.00" y="0.00" font-family='"Liberation Sans", sans-serif' font-size="6.4" text-anchor="end" font-weight="bold" fill="#1a1a1a" stroke="#1a1a1a" stroke-width="0.15" >80</text>
</g>
<line x1="187.00" y1="232.40" x2="188.50" y2="232.40" stroke="#444" stroke-width="0.8"/>
<g transform="translate(184.10,234.40) scale(1.12,1)">
<text x="0.00" y="0.00" font-family='"Liberation Sans", sans-serif' font-size="6.4" text-anchor="end" font-weight="bold" fill="#1a1a1a" stroke="#1a1a1a" stroke-width="0.15" >120</text>
</g>
<line x1="216.04" y1="303.10" x2="216.04" y2="304.70" stroke="#444" stroke-width="0.8"/>
<line x1="243.58" y1="303.10" x2="243.58" y2="304.70" stroke="#444" stroke-width="0.8"/>
<line x1="271.12" y1="303.10" x2="271.12" y2="304.70" stroke="#444" stroke-width="0.8"/>
<line x1="298.66" y1="303.10" x2="298.66" y2="304.70" stroke="#444" stroke-width="0.8"/>
<text x="252.35" y="229.80" font-family='"Liberation Serif", serif' font-size="7.8" text-anchor="middle" font-weight="normal" fill="#111" stroke="#111" stroke-width="0.22" >MIP-2</text>
<path d="M188.50,303.10 C190.80,294.00 197.68,258.35 202.27,248.48 C206.86,238.62 211.45,243.66 216.04,243.89 C220.63,244.11 220.63,242.53 229.81,249.84 C238.99,257.14 257.35,279.77 271.12,287.72 C284.89,295.68 305.55,295.92 312.43,297.56" fill="none" stroke="#222" stroke-width="0.9"/>
<path d="M188.50,303.10 C190.80,295.37 197.68,263.02 202.27,256.73 C206.86,250.45 211.45,261.82 216.04,265.39 C220.63,268.97 220.63,271.99 229.81,278.18 C238.99,284.36 257.35,298.36 271.12,302.51 C284.89,306.66 305.55,303.00 312.43,303.10" fill="none" stroke="#222" stroke-width="0.9"/>
<circle cx="188.50" cy="303.10" r="1.6" fill="#fff" stroke="#222" stroke-width="0.7"/>
<circle cx="202.27" cy="248.48" r="1.6" fill="#fff" stroke="#222" stroke-width="0.7"/>
<circle cx="216.04" cy="243.89" r="1.6" fill="#fff" stroke="#222" stroke-width="0.7"/>
<circle cx="229.81" cy="249.84" r="1.6" fill="#fff" stroke="#222" stroke-width="0.7"/>
<circle cx="271.12" cy="287.72" r="1.6" fill="#fff" stroke="#222" stroke-width="0.7"/>
<circle cx="312.43" cy="297.56" r="1.6" fill="#fff" stroke="#222" stroke-width="0.7"/>
<circle cx="188.50" cy="303.10" r="1.9" fill="#000"/>
<circle cx="202.27" cy="256.73" r="1.9" fill="#000"/>
<circle cx="216.04" cy="265.39" r="1.9" fill="#000"/>
<circle cx="229.81" cy="278.18" r="1.9" fill="#000"/>
<circle cx="271.12" cy="302.51" r="1.9" fill="#000"/>
<circle cx="312.43" cy="303.10" r="1.9" fill="#000"/>
<circle cx="285.90" cy="240.60" r="1.9" fill="#fff" stroke="#111" stroke-width="0.8"/>
<circle cx="286.20" cy="247.80" r="1.9" fill="#000"/>
<text x="289.80" y="242.70" font-family='"Liberation Serif", serif' font-size="6.5" text-anchor="start" font-weight="normal" fill="#111" stroke="#111" stroke-width="0.32" >LPS</text>
<text x="289.80" y="249.80" font-family='"Liberation Serif", serif' font-size="6.5" text-anchor="start" font-weight="normal" fill="#111" stroke="#111" stroke-width="0.32" >LPS+TGF&#946;</text>
<rect x="27.90" y="319.40" width="137.10" height="67.80" fill="none" stroke="#444" stroke-width="0.85"/>
<line x1="27.90" y1="387.20" x2="165.00" y2="387.20" stroke="#222" stroke-width="0.95"/>
<line x1="26.40" y1="387.20" x2="27.90" y2="387.20" stroke="#444" stroke-width="0.8"/>
<g transform="translate(23.30,388.80) scale(1.12,1)">
<text x="0.00" y="0.00" font-family='"Liberation Sans", sans-serif' font-size="6.6" text-anchor="end" font-weight="normal" fill="#1a1a1a" stroke="#1a1a1a" stroke-width="0.3" >0</text>
</g>
<line x1="26.40" y1="364.60" x2="27.90" y2="364.60" stroke="#444" stroke-width="0.8"/>
<g transform="translate(23.30,366.20) scale(1.12,1)">
<text x="0.00" y="0.00" font-family='"Liberation Sans", sans-serif' font-size="6.6" text-anchor="end" font-weight="normal" fill="#1a1a1a" stroke="#1a1a1a" stroke-width="0.3" >40</text>
</g>
<line x1="26.40" y1="342.00" x2="27.90" y2="342.00" stroke="#444" stroke-width="0.8"/>
<g transform="translate(23.30,343.60) scale(1.12,1)">
<text x="0.00" y="0.00" font-family='"Liberation Sans", sans-serif' font-size="6.6" text-anchor="end" font-weight="normal" fill="#1a1a1a" stroke="#1a1a1a" stroke-width="0.3" >80</text>
</g>
<line x1="26.40" y1="319.40" x2="27.90" y2="319.40" stroke="#444" stroke-width="0.8"/>
<g transform="translate(23.30,321.00) scale(1.12,1)">
<text x="0.00" y="0.00" font-family='"Liberation Sans", sans-serif' font-size="6.6" text-anchor="end" font-weight="normal" fill="#1a1a1a" stroke="#1a1a1a" stroke-width="0.3" >120</text>
</g>
<line x1="55.32" y1="387.20" x2="55.32" y2="388.80" stroke="#444" stroke-width="0.8"/>
<line x1="82.74" y1="387.20" x2="82.74" y2="388.80" stroke="#444" stroke-width="0.8"/>
<line x1="110.16" y1="387.20" x2="110.16" y2="388.80" stroke="#444" stroke-width="0.8"/>
<line x1="137.58" y1="387.20" x2="137.58" y2="388.80" stroke="#444" stroke-width="0.8"/>
<text x="28.50" y="398.50" font-family='"Liberation Sans", sans-serif' font-size="6.3" text-anchor="middle" font-weight="normal" fill="#1a1a1a" stroke="#1a1a1a" stroke-width="0.35" >0</text>
<text x="55.92" y="398.50" font-family='"Liberation Sans", sans-serif' font-size="6.3" text-anchor="middle" font-weight="normal" fill="#1a1a1a" stroke="#1a1a1a" stroke-width="0.35" >2</text>
<text x="83.34" y="398.50" font-family='"Liberation Sans", sans-serif' font-size="6.3" text-anchor="middle" font-weight="normal" fill="#1a1a1a" stroke="#1a1a1a" stroke-width="0.35" >4</text>
<text x="110.76" y="398.50" font-family='"Liberation Sans", sans-serif' font-size="6.3" text-anchor="middle" font-weight="normal" fill="#1a1a1a" stroke="#1a1a1a" stroke-width="0.35" >6</text>
<text x="138.18" y="398.50" font-family='"Liberation Sans", sans-serif' font-size="6.3" text-anchor="middle" font-weight="normal" fill="#1a1a1a" stroke="#1a1a1a" stroke-width="0.35" >8</text>
<text x="165.60" y="398.50" font-family='"Liberation Sans", sans-serif' font-size="6.3" text-anchor="middle" font-weight="normal" fill="#1a1a1a" stroke="#1a1a1a" stroke-width="0.35" >10</text>
<text x="97.95" y="407.60" font-family='"Liberation Serif", serif' font-size="7.6" text-anchor="middle" font-weight="normal" fill="#111" stroke="#111" stroke-width="0.22" >Time (h)</text>
<text x="92.45" y="316.60" font-family='"Liberation Serif", serif' font-size="7.8" text-anchor="middle" font-weight="normal" fill="#111" stroke="#111" stroke-width="0.22" >IP-10</text>
<path d="M27.90,387.20 C30.18,386.18 37.04,386.31 41.61,381.10 C46.18,375.88 50.75,362.75 55.32,355.90 C59.89,349.04 59.89,343.09 69.03,339.97 C78.17,336.84 96.45,333.32 110.16,337.14 C123.87,340.96 144.44,358.61 151.29,362.90" fill="none" stroke="#222" stroke-width="0.9"/>
<path d="M27.90,387.20 C30.18,385.16 37.04,378.85 41.61,374.94 C46.18,371.03 50.75,368.80 55.32,363.75 C59.89,358.71 59.89,350.26 69.03,344.66 C78.17,339.05 96.45,327.38 110.16,330.13 C123.87,332.89 144.44,356.03 151.29,361.21" fill="none" stroke="#222" stroke-width="0.9"/>
<circle cx="27.90" cy="387.20" r="1.6" fill="#fff" stroke="#222" stroke-width="0.7"/>
<circle cx="41.61" cy="381.10" r="1.6" fill="#fff" stroke="#222" stroke-width="0.7"/>
<circle cx="55.32" cy="355.90" r="1.6" fill="#fff" stroke="#222" stroke-width="0.7"/>
<circle cx="69.03" cy="339.97" r="1.6" fill="#fff" stroke="#222" stroke-width="0.7"/>
<circle cx="110.16" cy="337.14" r="1.6" fill="#fff" stroke="#222" stroke-width="0.7"/>
<circle cx="151.29" cy="362.90" r="1.6" fill="#fff" stroke="#222" stroke-width="0.7"/>
<circle cx="27.90" cy="387.20" r="1.9" fill="#000"/>
<circle cx="41.61" cy="374.94" r="1.9" fill="#000"/>
<circle cx="55.32" cy="363.75" r="1.9" fill="#000"/>
<circle cx="69.03" cy="344.66" r="1.9" fill="#000"/>
<circle cx="110.16" cy="330.13" r="1.9" fill="#000"/>
<circle cx="151.29" cy="361.21" r="1.9" fill="#000"/>
<circle cx="130.30" cy="325.70" r="1.9" fill="#fff" stroke="#111" stroke-width="0.8"/>
<circle cx="130.60" cy="332.90" r="1.9" fill="#000"/>
<text x="134.20" y="327.80" font-family='"Liberation Serif", serif' font-size="6.5" text-anchor="start" font-weight="normal" fill="#111" stroke="#111" stroke-width="0.32" >LPS</text>
<text x="134.20" y="334.90" font-family='"Liberation Serif", serif' font-size="6.5" text-anchor="start" font-weight="normal" fill="#111" stroke="#111" stroke-width="0.32" >LPS+TGF&#946;</text>
<rect x="188.50" y="319.50" width="137.10" height="67.70" fill="none" stroke="#444" stroke-width="0.85"/>
<line x1="188.50" y1="387.20" x2="325.60" y2="387.20" stroke="#222" stroke-width="0.95"/>
<line x1="187.00" y1="387.20" x2="188.50" y2="387.20" stroke="#444" stroke-width="0.8"/>
<g transform="translate(183.40,388.80) scale(1.15,1)">
<text x="0.00" y="0.00" font-family='"Liberation Sans", sans-serif' font-size="6.0" text-anchor="end" font-weight="bold" fill="#1a1a1a" stroke="#1a1a1a" stroke-width="0.15" >0</text>
</g>
<line x1="187.00" y1="364.63" x2="188.50" y2="364.63" stroke="#444" stroke-width="0.8"/>
<g transform="translate(183.40,366.23) scale(1.15,1)">
<text x="0.00" y="0.00" font-family='"Liberation Sans", sans-serif' font-size="6.0" text-anchor="end" font-weight="bold" fill="#1a1a1a" stroke="#1a1a1a" stroke-width="0.15" >40</text>
</g>
<line x1="187.00" y1="342.07" x2="188.50" y2="342.07" stroke="#444" stroke-width="0.8"/>
<g transform="translate(183.40,343.67) scale(1.15,1)">
<text x="0.00" y="0.00" font-family='"Liberation Sans", sans-serif' font-size="6.0" text-anchor="end" font-weight="bold" fill="#1a1a1a" stroke="#1a1a1a" stroke-width="0.15" >80</text>
</g>
<line x1="187.00" y1="319.50" x2="188.50" y2="319.50" stroke="#444" stroke-width="0.8"/>
<g transform="translate(183.40,321.10) scale(1.15,1)">
<text x="0.00" y="0.00" font-family='"Liberation Sans", sans-serif' font-size="6.0" text-anchor="end" font-weight="bold" fill="#1a1a1a" stroke="#1a1a1a" stroke-width="0.15" >120</text>
</g>
<line x1="215.92" y1="387.20" x2="215.92" y2="388.80" stroke="#444" stroke-width="0.8"/>
<line x1="243.34" y1="387.20" x2="243.34" y2="388.80" stroke="#444" stroke-width="0.8"/>
<line x1="270.76" y1="387.20" x2="270.76" y2="388.80" stroke="#444" stroke-width="0.8"/>
<line x1="298.18" y1="387.20" x2="298.18" y2="388.80" stroke="#444" stroke-width="0.8"/>
<text x="189.10" y="398.50" font-family='"Liberation Sans", sans-serif' font-size="6.3" text-anchor="middle" font-weight="normal" fill="#1a1a1a" stroke="#1a1a1a" stroke-width="0.35" >0</text>
<text x="216.52" y="398.50" font-family='"Liberation Sans", sans-serif' font-size="6.3" text-anchor="middle" font-weight="normal" fill="#1a1a1a" stroke="#1a1a1a" stroke-width="0.35" >2</text>
<text x="243.94" y="398.50" font-family='"Liberation Sans", sans-serif' font-size="6.3" text-anchor="middle" font-weight="normal" fill="#1a1a1a" stroke="#1a1a1a" stroke-width="0.35" >4</text>
<text x="271.36" y="398.50" font-family='"Liberation Sans", sans-serif' font-size="6.3" text-anchor="middle" font-weight="normal" fill="#1a1a1a" stroke="#1a1a1a" stroke-width="0.35" >6</text>
<text x="298.78" y="398.50" font-family='"Liberation Sans", sans-serif' font-size="6.3" text-anchor="middle" font-weight="normal" fill="#1a1a1a" stroke="#1a1a1a" stroke-width="0.35" >8</text>
<text x="326.20" y="398.50" font-family='"Liberation Sans", sans-serif' font-size="6.3" text-anchor="middle" font-weight="normal" fill="#1a1a1a" stroke="#1a1a1a" stroke-width="0.35" >10</text>
<text x="258.55" y="407.60" font-family='"Liberation Serif", serif' font-size="7.6" text-anchor="middle" font-weight="normal" fill="#111" stroke="#111" stroke-width="0.22" >Time (h)</text>
<text x="258.55" y="316.20" font-family='"Liberation Serif", serif' font-size="7.8" text-anchor="middle" font-weight="normal" fill="#111" stroke="#111" stroke-width="0.22" >MCP-1</text>
<path d="M188.50,387.20 C190.78,386.25 197.64,386.21 202.21,381.50 C206.78,376.79 211.35,365.88 215.92,358.94 C220.49,351.99 220.49,344.56 229.63,339.81 C238.77,335.06 257.05,329.70 270.76,330.44 C284.47,331.19 305.04,341.96 311.89,344.27" fill="none" stroke="#222" stroke-width="0.9"/>
<path d="M188.50,387.20 C190.78,384.94 197.64,377.47 202.21,373.66 C206.78,369.85 211.35,368.75 215.92,364.35 C220.49,359.95 220.49,351.25 229.63,347.26 C238.77,343.26 257.05,338.00 270.76,340.37 C284.47,342.75 305.04,358.00 311.89,361.53" fill="none" stroke="#222" stroke-width="0.9"/>
<circle cx="188.50" cy="387.20" r="1.6" fill="#fff" stroke="#222" stroke-width="0.7"/>
<circle cx="202.21" cy="381.50" r="1.6" fill="#fff" stroke="#222" stroke-width="0.7"/>
<circle cx="215.92" cy="358.94" r="1.6" fill="#fff" stroke="#222" stroke-width="0.7"/>
<circle cx="229.63" cy="339.81" r="1.6" fill="#fff" stroke="#222" stroke-width="0.7"/>
<circle cx="270.76" cy="330.44" r="1.6" fill="#fff" stroke="#222" stroke-width="0.7"/>
<circle cx="311.89" cy="344.27" r="1.6" fill="#fff" stroke="#222" stroke-width="0.7"/>
<circle cx="188.50" cy="387.20" r="1.9" fill="#000"/>
<circle cx="202.21" cy="373.66" r="1.9" fill="#000"/>
<circle cx="215.92" cy="364.35" r="1.9" fill="#000"/>
<circle cx="229.63" cy="347.26" r="1.9" fill="#000"/>
<circle cx="270.76" cy="340.37" r="1.9" fill="#000"/>
<circle cx="311.89" cy="361.53" r="1.9" fill="#000"/>
<circle cx="290.20" cy="323.40" r="1.9" fill="#fff" stroke="#111" stroke-width="0.8"/>
<circle cx="290.50" cy="330.80" r="1.9" fill="#000"/>
<text x="294.10" y="325.50" font-family='"Liberation Serif", serif' font-size="6.5" text-anchor="start" font-weight="normal" fill="#111" stroke="#111" stroke-width="0.32" >LPS</text>
<text x="294.10" y="332.80" font-family='"Liberation Serif", serif' font-size="6.5" text-anchor="start" font-weight="normal" fill="#111" stroke="#111" stroke-width="0.32" >LPS+TGF&#946;</text>
<text transform="translate(8.00,265.00) rotate(-90) scale(1,1.0)" x="0" y="0" font-family='"Liberation Serif", serif' font-size="7.4" text-anchor="middle" font-weight="normal" fill="#111" stroke="#111" stroke-width="0.3">Chemokine mRNA Levels</text>
<text transform="translate(15.60,265.40) rotate(-90) scale(1,1.0)" x="0" y="0" font-family='"Liberation Serif", serif' font-size="7.0" text-anchor="middle" font-weight="normal" fill="#111" stroke="#111" stroke-width="0.3">(arbitrary values)</text>
<text transform="translate(5.50,352.00) rotate(-90) scale(1,0.9)" x="0" y="0" font-family='"Liberation Serif", serif' font-size="7.55" text-anchor="middle" font-weight="normal" fill="#111" stroke="#111" stroke-width="0.25">Chemokine mRNA Levels</text>
<text transform="translate(13.40,354.30) rotate(-90) scale(1,1.0)" x="0" y="0" font-family='"Liberation Serif", serif' font-size="7.1" text-anchor="middle" font-weight="normal" fill="#111" stroke="#111" stroke-width="0.25">(arbitrary values)</text>
<text x="344.40" y="14.60" font-family='"Liberation Sans", sans-serif' font-size="17.8" text-anchor="start" font-weight="bold" fill="#000"  >C</text>
<line x1="375.40" y1="21.80" x2="375.40" y2="91.00" stroke="#444" stroke-width="0.9"/>
<line x1="375.40" y1="91.00" x2="520" y2="91.00" stroke="#333" stroke-width="1.0"/>
<line x1="373.40" y1="91.00" x2="375.40" y2="91.00" stroke="#444" stroke-width="0.7"/>
<text x="371.10" y="92.90" font-family='"Liberation Serif", serif' font-size="5.8" text-anchor="end" font-weight="normal" fill="#222" stroke="#222" stroke-width="0.15" >0</text>
<line x1="373.40" y1="67.93" x2="375.40" y2="67.93" stroke="#444" stroke-width="0.7"/>
<text x="371.10" y="69.83" font-family='"Liberation Serif", serif' font-size="5.8" text-anchor="end" font-weight="normal" fill="#222" stroke="#222" stroke-width="0.15" >50</text>
<line x1="373.40" y1="44.87" x2="375.40" y2="44.87" stroke="#444" stroke-width="0.7"/>
<text x="371.10" y="46.77" font-family='"Liberation Serif", serif' font-size="5.8" text-anchor="end" font-weight="normal" fill="#222" stroke="#222" stroke-width="0.15" >100</text>
<line x1="373.40" y1="21.80" x2="375.40" y2="21.80" stroke="#444" stroke-width="0.7"/>
<text x="371.10" y="23.70" font-family='"Liberation Serif", serif' font-size="5.8" text-anchor="end" font-weight="normal" fill="#222" stroke="#222" stroke-width="0.15" >150</text>
<line x1="404.20" y1="91.00" x2="404.20" y2="92.60" stroke="#444" stroke-width="0.7"/>
<line x1="432.50" y1="91.00" x2="432.50" y2="92.60" stroke="#444" stroke-width="0.7"/>
<line x1="461.00" y1="91.00" x2="461.00" y2="92.60" stroke="#444" stroke-width="0.7"/>
<line x1="489.60" y1="91.00" x2="489.60" y2="92.60" stroke="#444" stroke-width="0.7"/>
<line x1="518.30" y1="91.00" x2="518.30" y2="92.60" stroke="#444" stroke-width="0.7"/>
<text transform="translate(354.70,54.00) rotate(-90) scale(1,1.0)" x="0" y="0" font-family='"Liberation Serif", serif' font-size="9.5" text-anchor="middle" font-weight="normal" fill="#111" stroke="#111" stroke-width="0.35">KC (pg/mL)</text>
<rect x="380.80" y="90.20" width="5.5" height="0.80" fill="#444"/>
<line x1="390.30" y1="77.62" x2="390.30" y2="76.93" stroke="#333" stroke-width="0.7"/>
<line x1="388.80" y1="76.93" x2="391.80" y2="76.93" stroke="#333" stroke-width="0.7"/>
<rect x="387.00" y="77.62" width="6.8" height="13.38" fill="url(#hatch)" stroke="#222" stroke-width="0.6"/>
<line x1="397.00" y1="80.85" x2="397.00" y2="75.78" stroke="#444" stroke-width="0.7"/>
<line x1="395.50" y1="75.78" x2="398.50" y2="75.78" stroke="#444" stroke-width="0.7"/>
<rect x="393.80" y="80.85" width="6.4" height="10.15" fill="#3d3d3d"/>
<rect x="409.30" y="90.20" width="5.5" height="0.80" fill="#444"/>
<line x1="418.80" y1="66.55" x2="418.80" y2="65.63" stroke="#333" stroke-width="0.7"/>
<line x1="417.30" y1="65.63" x2="420.30" y2="65.63" stroke="#333" stroke-width="0.7"/>
<rect x="415.50" y="66.55" width="6.8" height="24.45" fill="url(#hatch)" stroke="#222" stroke-width="0.6"/>
<line x1="425.50" y1="72.55" x2="425.50" y2="67.01" stroke="#444" stroke-width="0.7"/>
<line x1="424.00" y1="67.01" x2="427.00" y2="67.01" stroke="#444" stroke-width="0.7"/>
<rect x="422.30" y="72.55" width="6.4" height="18.45" fill="#3d3d3d"/>
<rect x="437.90" y="90.20" width="5.5" height="0.80" fill="#444"/>
<line x1="447.40" y1="37.49" x2="447.40" y2="35.64" stroke="#333" stroke-width="0.7"/>
<line x1="445.90" y1="35.64" x2="448.90" y2="35.64" stroke="#333" stroke-width="0.7"/>
<rect x="444.10" y="37.49" width="6.8" height="53.51" fill="url(#hatch)" stroke="#222" stroke-width="0.6"/>
<line x1="454.10" y1="65.63" x2="454.10" y2="61.47" stroke="#444" stroke-width="0.7"/>
<line x1="452.60" y1="61.47" x2="455.60" y2="61.47" stroke="#444" stroke-width="0.7"/>
<rect x="450.90" y="65.63" width="6.4" height="25.37" fill="#3d3d3d"/>
<rect x="466.30" y="90.20" width="5.5" height="0.80" fill="#444"/>
<line x1="475.80" y1="26.87" x2="475.80" y2="25.49" stroke="#333" stroke-width="0.7"/>
<line x1="474.30" y1="25.49" x2="477.30" y2="25.49" stroke="#333" stroke-width="0.7"/>
<rect x="472.50" y="26.87" width="6.8" height="64.13" fill="url(#hatch)" stroke="#222" stroke-width="0.6"/>
<line x1="482.50" y1="67.01" x2="482.50" y2="63.32" stroke="#444" stroke-width="0.7"/>
<line x1="481.00" y1="63.32" x2="484.00" y2="63.32" stroke="#444" stroke-width="0.7"/>
<rect x="479.30" y="67.01" width="6.4" height="23.99" fill="#3d3d3d"/>
<rect x="494.90" y="90.20" width="5.5" height="0.80" fill="#444"/>
<line x1="504.40" y1="25.95" x2="504.40" y2="23.65" stroke="#333" stroke-width="0.7"/>
<line x1="502.90" y1="23.65" x2="505.90" y2="23.65" stroke="#333" stroke-width="0.7"/>
<rect x="501.10" y="25.95" width="6.8" height="65.05" fill="url(#hatch)" stroke="#222" stroke-width="0.6"/>
<line x1="511.10" y1="68.39" x2="511.10" y2="65.63" stroke="#444" stroke-width="0.7"/>
<line x1="509.60" y1="65.63" x2="512.60" y2="65.63" stroke="#444" stroke-width="0.7"/>
<rect x="507.90" y="68.39" width="6.4" height="22.61" fill="#3d3d3d"/>
<line x1="375.40" y1="102.80" x2="375.40" y2="170.60" stroke="#444" stroke-width="0.9"/>
<line x1="375.40" y1="170.60" x2="520" y2="170.60" stroke="#333" stroke-width="1.0"/>
<line x1="373.40" y1="170.60" x2="375.40" y2="170.60" stroke="#444" stroke-width="0.7"/>
<text x="371.10" y="172.50" font-family='"Liberation Serif", serif' font-size="5.8" text-anchor="end" font-weight="normal" fill="#222" stroke="#222" stroke-width="0.15" >0</text>
<line x1="373.40" y1="148.00" x2="375.40" y2="148.00" stroke="#444" stroke-width="0.7"/>
<text x="371.10" y="149.90" font-family='"Liberation Serif", serif' font-size="5.8" text-anchor="end" font-weight="normal" fill="#222" stroke="#222" stroke-width="0.15" >40000</text>
<line x1="373.40" y1="125.40" x2="375.40" y2="125.40" stroke="#444" stroke-width="0.7"/>
<text x="371.10" y="127.30" font-family='"Liberation Serif", serif' font-size="5.8" text-anchor="end" font-weight="normal" fill="#222" stroke="#222" stroke-width="0.15" >80000</text>
<line x1="373.40" y1="102.80" x2="375.40" y2="102.80" stroke="#444" stroke-width="0.7"/>
<text x="371.10" y="104.70" font-family='"Liberation Serif", serif' font-size="5.8" text-anchor="end" font-weight="normal" fill="#222" stroke="#222" stroke-width="0.15" >120000</text>
<line x1="404.20" y1="170.60" x2="404.20" y2="172.20" stroke="#444" stroke-width="0.7"/>
<line x1="432.50" y1="170.60" x2="432.50" y2="172.20" stroke="#444" stroke-width="0.7"/>
<line x1="461.00" y1="170.60" x2="461.00" y2="172.20" stroke="#444" stroke-width="0.7"/>
<line x1="489.60" y1="170.60" x2="489.60" y2="172.20" stroke="#444" stroke-width="0.7"/>
<line x1="518.30" y1="170.60" x2="518.30" y2="172.20" stroke="#444" stroke-width="0.7"/>
<text transform="translate(352.40,127.60) rotate(-90) scale(1,1.0)" x="0" y="0" font-family='"Liberation Serif", serif' font-size="8.9" text-anchor="middle" font-weight="normal" fill="#111" stroke="#111" stroke-width="0.35">MIP-2 (pg/mL)</text>
<rect x="380.50" y="169.80" width="5.5" height="0.80" fill="#444"/>
<line x1="390.00" y1="168.06" x2="390.00" y2="167.49" stroke="#333" stroke-width="0.7"/>
<line x1="388.50" y1="167.49" x2="391.50" y2="167.49" stroke="#333" stroke-width="0.7"/>
<rect x="386.70" y="168.06" width="6.8" height="2.54" fill="url(#hatch)" stroke="#222" stroke-width="0.6"/>
<line x1="396.70" y1="168.62" x2="396.70" y2="166.36" stroke="#444" stroke-width="0.7"/>
<line x1="395.20" y1="166.36" x2="398.20" y2="166.36" stroke="#444" stroke-width="0.7"/>
<rect x="393.50" y="168.62" width="6.4" height="1.98" fill="#3d3d3d"/>
<rect x="409.00" y="169.80" width="5.5" height="0.80" fill="#444"/>
<line x1="411.75" y1="169.80" x2="411.75" y2="166.64" stroke="#333" stroke-width="0.7"/>
<line x1="410.50" y1="166.64" x2="413.00" y2="166.64" stroke="#333" stroke-width="0.7"/>
<line x1="418.50" y1="154.22" x2="418.50" y2="150.82" stroke="#333" stroke-width="0.7"/>
<line x1="417.00" y1="150.82" x2="420.00" y2="150.82" stroke="#333" stroke-width="0.7"/>
<rect x="415.20" y="154.22" width="6.8" height="16.38" fill="url(#hatch)" stroke="#222" stroke-width="0.6"/>
<rect x="422.00" y="161.84" width="6.4" height="8.76" fill="#3d3d3d"/>
<rect x="437.60" y="169.80" width="5.5" height="0.80" fill="#444"/>
<line x1="447.10" y1="141.22" x2="447.10" y2="138.39" stroke="#333" stroke-width="0.7"/>
<line x1="445.60" y1="138.39" x2="448.60" y2="138.39" stroke="#333" stroke-width="0.7"/>
<rect x="443.80" y="141.22" width="6.8" height="29.38" fill="url(#hatch)" stroke="#222" stroke-width="0.6"/>
<line x1="453.80" y1="154.22" x2="453.80" y2="151.39" stroke="#444" stroke-width="0.7"/>
<line x1="452.30" y1="151.39" x2="455.30" y2="151.39" stroke="#444" stroke-width="0.7"/>
<rect x="450.60" y="154.22" width="6.4" height="16.38" fill="#3d3d3d"/>
<rect x="466.00" y="169.75" width="5.5" height="0.85" fill="#444"/>
<line x1="475.50" y1="122.57" x2="475.50" y2="119.47" stroke="#333" stroke-width="0.7"/>
<line x1="474.00" y1="119.47" x2="477.00" y2="119.47" stroke="#333" stroke-width="0.7"/>
<rect x="472.20" y="122.57" width="6.8" height="48.02" fill="url(#hatch)" stroke="#222" stroke-width="0.6"/>
<line x1="482.20" y1="157.60" x2="482.20" y2="154.78" stroke="#444" stroke-width="0.7"/>
<line x1="480.70" y1="154.78" x2="483.70" y2="154.78" stroke="#444" stroke-width="0.7"/>
<rect x="479.00" y="157.60" width="6.4" height="12.99" fill="#3d3d3d"/>
<rect x="494.60" y="169.58" width="5.5" height="1.02" fill="#444"/>
<line x1="497.35" y1="169.58" x2="497.35" y2="164.95" stroke="#333" stroke-width="0.7"/>
<line x1="496.10" y1="164.95" x2="498.60" y2="164.95" stroke="#333" stroke-width="0.7"/>
<line x1="504.10" y1="113.53" x2="504.10" y2="111.56" stroke="#333" stroke-width="0.7"/>
<line x1="502.60" y1="111.56" x2="505.60" y2="111.56" stroke="#333" stroke-width="0.7"/>
<rect x="500.80" y="113.53" width="6.8" height="57.06" fill="url(#hatch)" stroke="#222" stroke-width="0.6"/>
<line x1="510.80" y1="151.95" x2="510.80" y2="147.44" stroke="#444" stroke-width="0.7"/>
<line x1="509.30" y1="147.44" x2="512.30" y2="147.44" stroke="#444" stroke-width="0.7"/>
<rect x="507.60" y="151.95" width="6.4" height="18.64" fill="#3d3d3d"/>
<line x1="375.40" y1="181.70" x2="375.40" y2="250.30" stroke="#444" stroke-width="0.9"/>
<line x1="375.40" y1="250.30" x2="520" y2="250.30" stroke="#333" stroke-width="1.0"/>
<line x1="373.40" y1="250.30" x2="375.40" y2="250.30" stroke="#444" stroke-width="0.7"/>
<text x="371.10" y="252.20" font-family='"Liberation Serif", serif' font-size="5.8" text-anchor="end" font-weight="normal" fill="#222" stroke="#222" stroke-width="0.15" >0</text>
<line x1="373.40" y1="227.43" x2="375.40" y2="227.43" stroke="#444" stroke-width="0.7"/>
<text x="371.10" y="229.33" font-family='"Liberation Serif", serif' font-size="5.8" text-anchor="end" font-weight="normal" fill="#222" stroke="#222" stroke-width="0.15" >20000</text>
<line x1="373.40" y1="204.57" x2="375.40" y2="204.57" stroke="#444" stroke-width="0.7"/>
<text x="371.10" y="206.47" font-family='"Liberation Serif", serif' font-size="5.8" text-anchor="end" font-weight="normal" fill="#222" stroke="#222" stroke-width="0.15" >40000</text>
<line x1="373.40" y1="181.70" x2="375.40" y2="181.70" stroke="#444" stroke-width="0.7"/>
<text x="371.10" y="183.60" font-family='"Liberation Serif", serif' font-size="5.8" text-anchor="end" font-weight="normal" fill="#222" stroke="#222" stroke-width="0.15" >60000</text>
<line x1="404.20" y1="250.30" x2="404.20" y2="251.90" stroke="#444" stroke-width="0.7"/>
<line x1="432.50" y1="250.30" x2="432.50" y2="251.90" stroke="#444" stroke-width="0.7"/>
<line x1="461.00" y1="250.30" x2="461.00" y2="251.90" stroke="#444" stroke-width="0.7"/>
<line x1="489.60" y1="250.30" x2="489.60" y2="251.90" stroke="#444" stroke-width="0.7"/>
<line x1="518.30" y1="250.30" x2="518.30" y2="251.90" stroke="#444" stroke-width="0.7"/>
<text transform="translate(352.40,210.60) rotate(-90) scale(1,1.0)" x="0" y="0" font-family='"Liberation Serif", serif' font-size="8.9" text-anchor="middle" font-weight="normal" fill="#111" stroke="#111" stroke-width="0.35">MCP-1 (pg/mL)</text>
<rect x="379.80" y="249.50" width="5.5" height="0.80" fill="#444"/>
<line x1="389.30" y1="249.39" x2="389.30" y2="247.44" stroke="#333" stroke-width="0.7"/>
<line x1="387.80" y1="247.44" x2="390.80" y2="247.44" stroke="#333" stroke-width="0.7"/>
<rect x="386.00" y="249.39" width="6.8" height="0.91" fill="url(#hatch)" stroke="#222" stroke-width="0.6"/>
<line x1="396.00" y1="248.59" x2="396.00" y2="241.15" stroke="#444" stroke-width="0.7"/>
<line x1="394.50" y1="241.15" x2="397.50" y2="241.15" stroke="#444" stroke-width="0.7"/>
<rect x="392.80" y="248.59" width="6.4" height="1.72" fill="#3d3d3d"/>
<rect x="408.30" y="249.39" width="5.5" height="0.91" fill="#444"/>
<line x1="417.80" y1="245.73" x2="417.80" y2="243.44" stroke="#333" stroke-width="0.7"/>
<line x1="416.30" y1="243.44" x2="419.30" y2="243.44" stroke="#333" stroke-width="0.7"/>
<rect x="414.50" y="245.73" width="6.8" height="4.57" fill="url(#hatch)" stroke="#222" stroke-width="0.6"/>
<line x1="424.50" y1="244.35" x2="424.50" y2="237.72" stroke="#444" stroke-width="0.7"/>
<line x1="423.00" y1="237.72" x2="426.00" y2="237.72" stroke="#444" stroke-width="0.7"/>
<rect x="421.30" y="244.35" width="6.4" height="5.95" fill="#3d3d3d"/>
<rect x="436.90" y="249.16" width="5.5" height="1.14" fill="#444"/>
<line x1="446.40" y1="223.43" x2="446.40" y2="217.14" stroke="#333" stroke-width="0.7"/>
<line x1="444.90" y1="217.14" x2="447.90" y2="217.14" stroke="#333" stroke-width="0.7"/>
<rect x="443.10" y="223.43" width="6.8" height="26.87" fill="url(#hatch)" stroke="#222" stroke-width="0.6"/>
<line x1="453.10" y1="230.86" x2="453.10" y2="228.58" stroke="#444" stroke-width="0.7"/>
<line x1="451.60" y1="228.58" x2="454.60" y2="228.58" stroke="#444" stroke-width="0.7"/>
<rect x="449.90" y="230.86" width="6.4" height="19.44" fill="#3d3d3d"/>
<rect x="465.30" y="248.93" width="5.5" height="1.37" fill="#444"/>
<line x1="474.80" y1="208.57" x2="474.80" y2="204.80" stroke="#333" stroke-width="0.7"/>
<line x1="473.30" y1="204.80" x2="476.30" y2="204.80" stroke="#333" stroke-width="0.7"/>
<rect x="471.50" y="208.57" width="6.8" height="41.73" fill="url(#hatch)" stroke="#222" stroke-width="0.6"/>
<line x1="481.50" y1="217.14" x2="481.50" y2="206.28" stroke="#444" stroke-width="0.7"/>
<line x1="480.00" y1="206.28" x2="483.00" y2="206.28" stroke="#444" stroke-width="0.7"/>
<rect x="478.30" y="217.14" width="6.4" height="33.16" fill="#3d3d3d"/>
<rect x="493.90" y="247.44" width="5.5" height="2.86" fill="#444"/>
<line x1="503.40" y1="195.99" x2="503.40" y2="194.51" stroke="#333" stroke-width="0.7"/>
<line x1="501.90" y1="194.51" x2="504.90" y2="194.51" stroke="#333" stroke-width="0.7"/>
<rect x="500.10" y="195.99" width="6.8" height="54.31" fill="url(#hatch)" stroke="#222" stroke-width="0.6"/>
<line x1="510.10" y1="205.14" x2="510.10" y2="199.42" stroke="#444" stroke-width="0.7"/>
<line x1="508.60" y1="199.42" x2="511.60" y2="199.42" stroke="#444" stroke-width="0.7"/>
<rect x="506.90" y="205.14" width="6.4" height="45.16" fill="#3d3d3d"/>
<text x="388.70" y="261.00" font-family='"Liberation Serif", serif' font-size="6.2" text-anchor="middle" font-weight="normal" fill="#222" stroke="#222" stroke-width="0.25" >1</text>
<text x="417.60" y="261.00" font-family='"Liberation Serif", serif' font-size="6.2" text-anchor="middle" font-weight="normal" fill="#222" stroke="#222" stroke-width="0.25" >2</text>
<text x="445.80" y="261.00" font-family='"Liberation Serif", serif' font-size="6.2" text-anchor="middle" font-weight="normal" fill="#222" stroke="#222" stroke-width="0.25" >3</text>
<text x="473.60" y="261.00" font-family='"Liberation Serif", serif' font-size="6.2" text-anchor="middle" font-weight="normal" fill="#222" stroke="#222" stroke-width="0.25" >6</text>
<text x="503.30" y="261.00" font-family='"Liberation Serif", serif' font-size="6.2" text-anchor="middle" font-weight="normal" fill="#222" stroke="#222" stroke-width="0.25" >9</text>
<text x="446.50" y="276.70" font-family='"Liberation Serif", serif' font-size="10.5" text-anchor="middle" font-weight="normal" fill="#111" stroke="#111" stroke-width="0.38" >Treatment Time (h)</text>
</svg>
</body></html>
